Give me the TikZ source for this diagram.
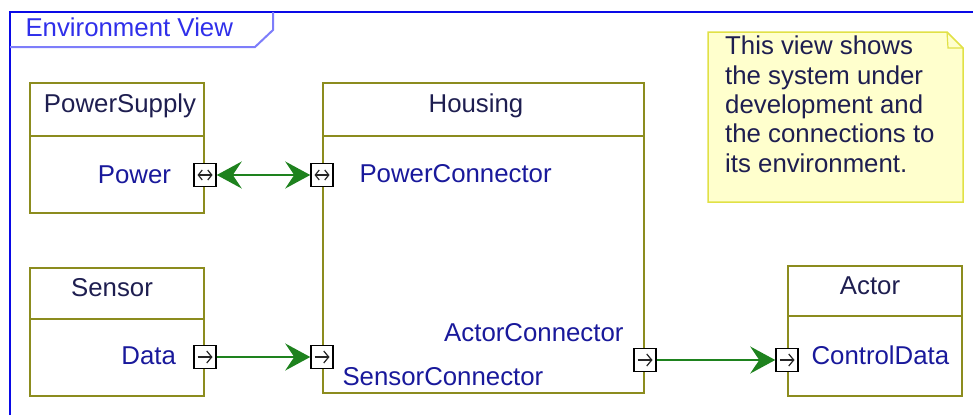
\documentclass[tikz,border=0pt]{standalone}
\usepackage{fontspec}
\setmainfont{Liberation Sans}
\usepackage{xcolor}
\usetikzlibrary{positioning,arrows.meta}
\definecolor{cframe}{RGB}{10,10,230}
\definecolor{ctab}{RGB}{125,125,250}
\definecolor{cpart}{RGB}{140,140,30}
\definecolor{cnote}{RGB}{255,255,205}
\definecolor{cnoteline}{RGB}{225,225,70}
\definecolor{cconn}{RGB}{30,130,30}
\definecolor{cname}{RGB}{30,30,80}
\definecolor{cport}{RGB}{25,25,155}

\begin{document}
\begin{tikzpicture}[x=1pt,y=-1pt,
  every node/.style={font=\fontsize{25.8}{29.3}\selectfont},
  part/.style={draw=cpart,line width=2pt,inner sep=0pt,minimum width=174pt},
  partname/.style={text=cname,anchor=base},
  plabel/.style={text=cport},
  port/.style={draw=black,fill=white,line width=1.5pt,minimum width=22pt,minimum height=23pt,inner sep=0pt},
  portio/.style={port,path picture={\draw[black!85,line width=1.2pt,{Straight Barb[length=4pt,width=10pt]}-{Straight Barb[length=4pt,width=10pt]}]
    ([xshift=-7.5pt]path picture bounding box.center) -- ([xshift=7.5pt]path picture bounding box.center);}},
  portin/.style={port,path picture={\draw[black!85,line width=1.2pt,-{Straight Barb[length=5pt,width=12pt]}]
    ([xshift=-7.5pt]path picture bounding box.center) -- ([xshift=7.5pt]path picture bounding box.center);}},
  conn/.style={draw=cconn,line width=2pt,-{Stealth[length=25pt,width=27pt,inset=9pt]}},
]
\useasboundingbox (0,0) rectangle (973,415);
% frame and title tab
\draw[cframe,line width=2pt] (10,415) -- (10,12) -- (973,12);
\draw[ctab,line width=2pt] (10,47) -- (255,47) -- (273,30) -- (273,12);
\node[anchor=base west,text=cframe!85] (viewname) at (22,36) {Environment View};

% note
\draw[cnoteline,fill=cnote,line width=1.5pt] (708,32) -- (947,32) -- (963,48) -- (963,202) -- (708,202) -- cycle;
\draw[cnoteline,line width=1.2pt] (947,32) -- (948,48) -- (963,48);
\node[anchor=north west,align=left,inner sep=0pt,text=cname] (note) at (725,36)
  {This view shows\\the system under\\development and\\the connections to\\its environment.};

% parts
\node[part,minimum height=130pt] (psupply) at (117,148) {};
\node[part,minimum height=310pt,minimum width=321pt] (housing) at (483.5,238) {};
\node[part,minimum height=128pt] (sensor) at (117,332) {};
\node[part,minimum height=130pt] (actor) at (875,331) {};
\draw[cpart,line width=2pt] (psupply.west |- 0,136) -- (psupply.east |- 0,136);
\draw[cpart,line width=2pt] (housing.west |- 0,136) -- (housing.east |- 0,136);
\draw[cpart,line width=2pt] (sensor.west |- 0,319) -- (sensor.east |- 0,319);
\draw[cpart,line width=2pt] (actor.west |- 0,316) -- (actor.east |- 0,316);
\node[partname] (psupplyname) at (120,112) {PowerSupply};
\node[partname] (housingname) at (476,112) {Housing};
\node[partname] (sensorname) at (112,296) {Sensor};
\node[partname] (actorname) at (870,294) {Actor};

% ports
\node[portio] (power) at (psupply.east |- 0,175) {};
\node[portio] (powercon) at (housing.west |- 0,175) {};
\node[portin] (data) at (sensor.east |- 0,357) {};
\node[portin] (sensorcon) at (housing.west |- 0,357) {};
\node[portin] (actorcon) at (housing.east |- 0,360) {};
\node[portin] (ctrldata) at (actor.west |- 0,360) {};
\node[plabel,anchor=base east] (powerlbl) at (174.5,183) {Power};
\node[plabel,anchor=base west] (powerconlbl) at (356,182) {PowerConnector};
\node[plabel,anchor=base east] (datalbl) at (179.5,364) {Data};
\node[plabel,anchor=base west] (sensorconlbl) at (339,385) {SensorConnector};
\node[plabel,anchor=base east] (actorconlbl) at (627,341) {ActorConnector};
\node[plabel,anchor=base west] (ctrldatalbl) at (808,364) {ControlData};

% connectors
\draw[conn,{Stealth[length=25pt,width=27pt,inset=9pt]}-{Stealth[length=25pt,width=27pt,inset=9pt]}] (power) -- (powercon);
\draw[conn] (data) -- (sensorcon);
\draw[conn] (actorcon) -- (ctrldata);
\end{tikzpicture}
\end{document}
